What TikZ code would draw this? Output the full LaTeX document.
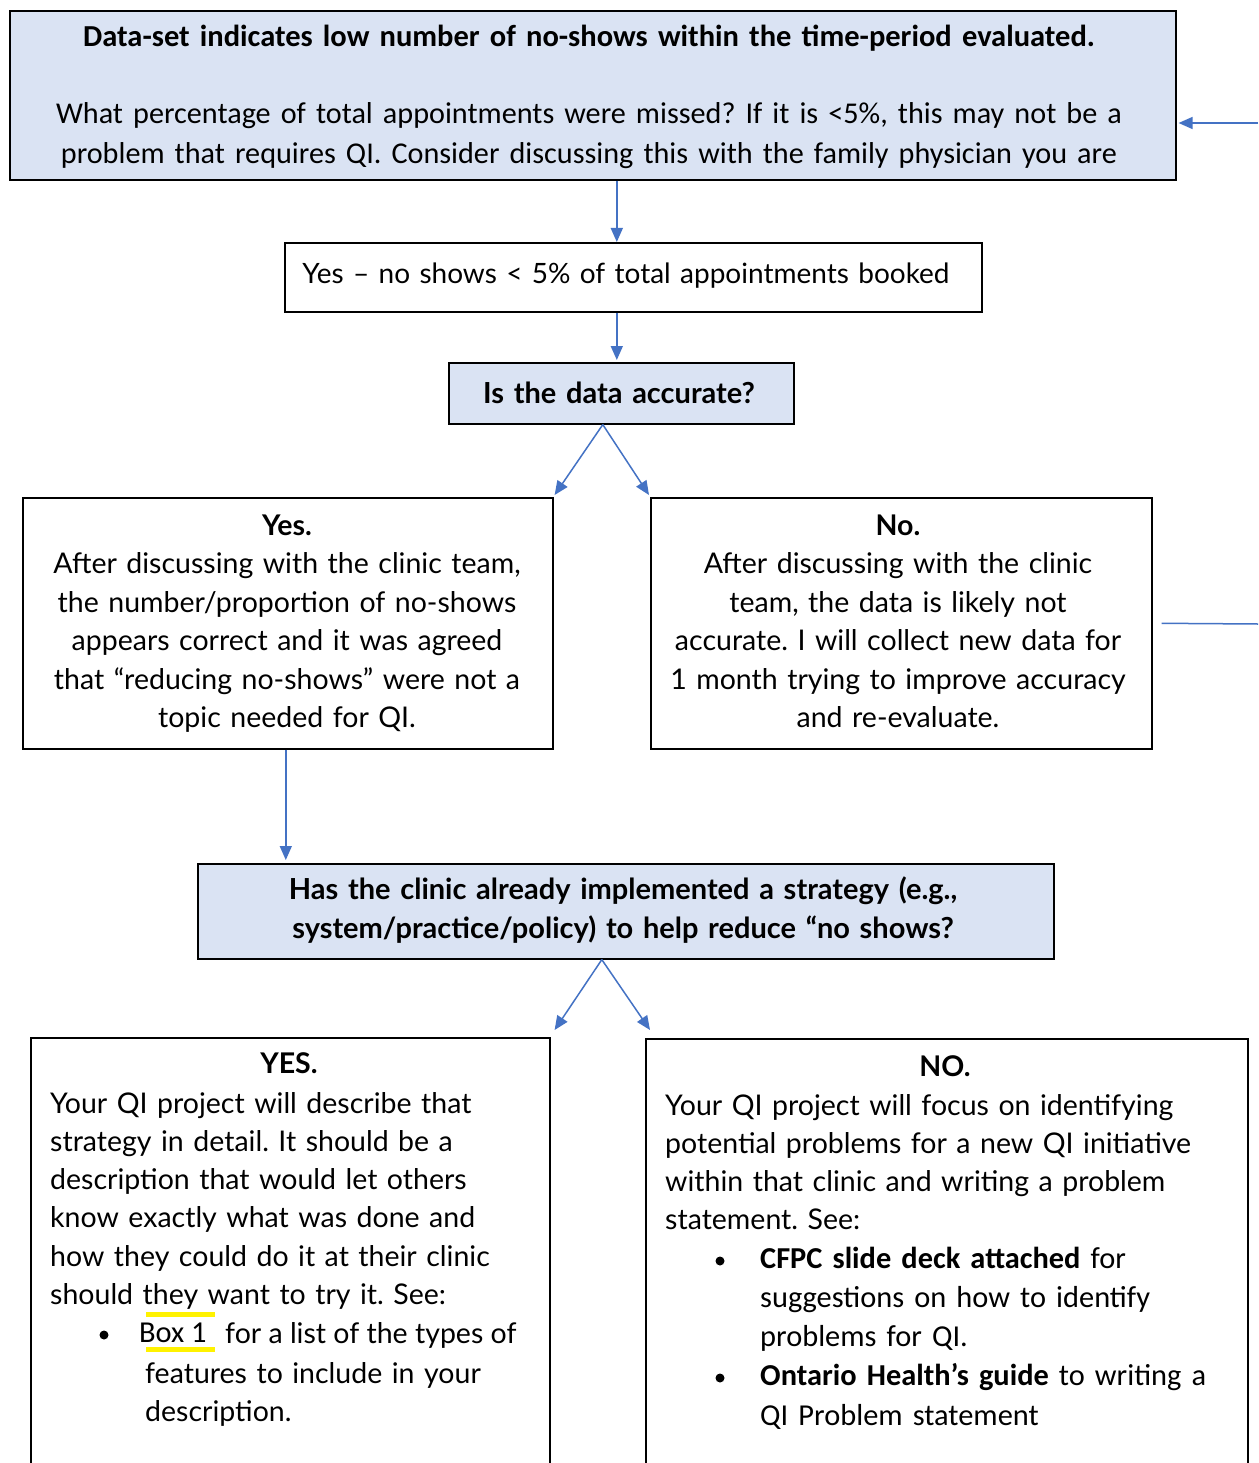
\documentclass[tikz,border=0pt]{standalone}
\usepackage{fontspec}
\setmainfont{Lato}
\newfontfamily\calfont{Carlito}
\usetikzlibrary{arrows.meta}
\definecolor{boxblue}{HTML}{DAE3F3}
\definecolor{arrowblue}{HTML}{4472C4}
\definecolor{hlyellow}{HTML}{FFF200}
\frenchspacing
\begin{document}
\frenchspacing
\begin{tikzpicture}[x=1pt,y=-1pt,
  box/.style={draw=black, line width=1.6pt, anchor=north west, inner sep=0pt},
  flow/.style={draw=arrowblue, line width=1.5pt, -{Triangle[length=14pt,width=12pt]}},
  plainline/.style={draw=arrowblue, line width=1.5pt},
  ctxt/.style={inner sep=0pt, anchor=base, align=center, text width=1150pt, font=\fontsize{28.5}{38.5}\selectfont},
  ltxt/.style={inner sep=0pt, anchor=base west, align=left, text width=600pt, font=\fontsize{28.5}{38.3}\selectfont},
  caltxt/.style={inner sep=0pt, anchor=base west, align=left, text width=600pt, font=\calfont\fontsize{30.4}{39}\selectfont},
  bulletdot/.style={circle, fill=black, inner sep=0pt, minimum size=9pt}]
\useasboundingbox (0,0) rectangle (1258,1463);
\clip (0,0) rectangle (1258,1463);
\fill[white] (0,0) rectangle (1258,1463);

% boxes
\node[box, fill=boxblue, minimum width=1166pt, minimum height=169pt] (top) at (9,10) {};
\node[box, fill=white, minimum width=697pt, minimum height=69pt] (b2) at (284,242) {};
\node[box, fill=boxblue, minimum width=345pt, minimum height=61pt] (b3) at (448,362) {};
\node[box, fill=white, minimum width=530pt, minimum height=251pt] (b4) at (22,497) {};
\node[box, fill=white, minimum width=501pt, minimum height=251pt] (b5) at (650,497) {};
\node[box, fill=boxblue, minimum width=856pt, minimum height=95pt] (b6) at (197,863) {};
\node[box, fill=white, minimum width=519pt, minimum height=520pt] (b7) at (30,1037) {};
\node[box, fill=white, minimum width=602pt, minimum height=520pt] (b8) at (645,1038) {};

% top box text
\node[ctxt, font=\calfont\bfseries\fontsize{30.5}{40}\selectfont] (t1) at (589,47) {Data-set indicates low number of no-shows within the time-period evaluated.};
\begin{scope}
\clip (9,10) rectangle (1175,169);
\node[ctxt, font=\calfont\fontsize{30.2}{40}\selectfont] (t2) at (589,124) {What percentage of total appointments were missed? If it is <5\%, this may not be a\\problem that requires QI. Consider discussing this with the family physician you are};
\end{scope}

% box 2, 3
\node[ctxt, font=\fontsize{28}{38.5}\selectfont] (t3) at (626,283) {Yes – no shows < 5\% of total appointments booked};
\node[ctxt, font=\bfseries\fontsize{29}{38.5}\selectfont] (t4) at (619,403) {Is the data accurate?};

% box 4
\node[ctxt, text width=525pt] (t5) at (287,535) {\textbf{Yes.}\\After discussing with the clinic team,\\the number/proportion of no-shows\\appears correct and it was agreed\\that “reducing no-shows” were not a\\topic needed for QI.};
% box 5
\node[ctxt, text width=495pt] (t6) at (898,535) {\textbf{No.}\\After discussing with the clinic\\team, the data is likely not\\accurate. I will collect new data for\\1 month trying to improve accuracy\\and re-evaluate.};

% box 6
\node[ctxt, font=\bfseries\fontsize{29}{39}\selectfont, text width=850pt] (t7) at (623,899) {Has the clinic already implemented a strategy (e.g.,\\system/practice/policy) to help reduce “no shows?};

% box 7
\node[ctxt, text width=500pt] (t8) at (289,1073) {\textbf{YES.}};
\node[ltxt] (t9) at (50,1113) {Your QI project will describe that\\strategy in detail. It should be a\\description that would let others\\know exactly what was done and\\how they could do it at their clinic\\should they want to try it. See:};
\node[bulletdot] (d1) at (104,1335) {};
\fill[hlyellow] (146,1312) rectangle (215,1317);
\fill[hlyellow] (146,1347) rectangle (215,1352);
\node[inner sep=0pt, anchor=base west, font=\calfont\fontsize{30.4}{39}\selectfont] (t10) at (139,1342) {Box 1};
\node[inner sep=0pt, anchor=base west, font=\fontsize{28.5}{38.3}\selectfont] (t11) at (225,1343) {for a list of the types of};
\node[ltxt] (t12) at (145,1383) {features to include in your\\description.};

% box 8
\node[ctxt, text width=590pt] (t13) at (945,1076) {\textbf{NO.}};
\node[ltxt] (t14) at (665,1115) {Your QI project will focus on identifying\\potential problems for a new QI initiative\\within that clinic and writing a problem\\statement. See:};
\node[bulletdot] (d2) at (720,1261) {};
\node[caltxt] (t15) at (760,1268) {\textbf{CFPC slide deck attached} for\\suggestions on how to identify\\problems for QI.};
\node[bulletdot] (d3) at (720,1378) {};
\node[caltxt, font=\calfont\fontsize{30.4}{40}\selectfont] (t16) at (760,1385) {\textbf{Ontario Health’s guide} to writing a\\QI Problem statement};

% connectors
\coordinate (r2) at (1258,123);
\coordinate (r1) at (1258,624);
\draw[flow] ([xshift=24pt]top.south) -- ([xshift=-16.5pt]b2.north);
\draw[flow] ([xshift=-16.5pt]b2.south) -- ([xshift=-4.5pt,yshift=2pt]b3.north);
\draw[flow] ([xshift=-18.5pt]b3.south) -- ([xshift=1pt,yshift=2pt]b4.north east);
\draw[flow] ([xshift=-18.5pt]b3.south) -- ([xshift=-1pt,yshift=2pt]b5.north west);
\draw[plainline] ([xshift=9pt]b5.east) -- (r1);
\draw[flow] (r2) -- ([xshift=2pt]top.east |- r2);
\draw[flow] ([xshift=-2pt]b4.south) -- ([xshift=-2pt,yshift=3pt]b4.south |- b6.north);
\draw[flow] ([xshift=-24pt]b6.south) -- ([xshift=4pt,yshift=7pt]b7.north east);
\draw[flow] ([xshift=-24pt]b6.south) -- ([xshift=5pt,yshift=8pt]b8.north west);
\end{tikzpicture}
\end{document}
